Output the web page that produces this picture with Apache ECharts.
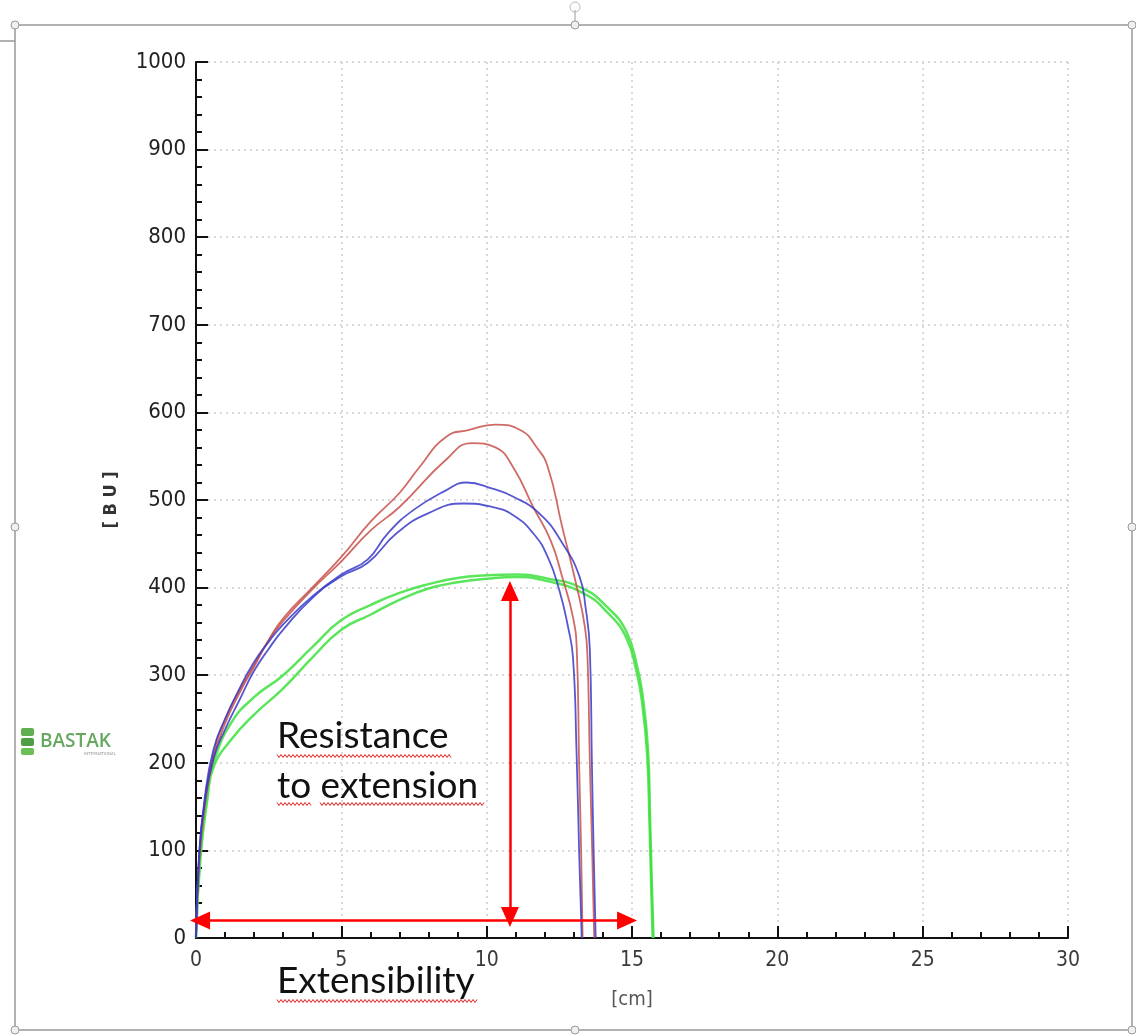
<!DOCTYPE html>
<html>
<head>
<meta charset="utf-8">
<script src="https://cdn.jsdelivr.net/npm/echarts@6/dist/echarts.min.js"></script>
<style>
  html, body { margin: 0; padding: 0; background: #fff; }
  #chart { width: 1136px; height: 1035px; }
</style>
</head>
<body>
<div id="chart"></div>
<script>
// extensograph curves, [cm, BU]
const red1 = [[0,0],[0.1,80],[0.3,150],[0.6,205],[1,245],[1.5,280],[2,310],[2.5,340],[3,365],[4,400],[5,435],[6,475],[7,508],[7.7,538],[8.6,572],[9.4,580],[10.3,586],[11.2,579],[11.7,561],[12.1,538],[12.6,469],[13.1,401],[13.38,355],[13.47,320],[13.55,200],[13.63,100],[13.7,0]];
const red2 = [[0,0],[0.1,85],[0.3,155],[0.6,210],[1,250],[1.5,283],[2,312],[2.5,340],[3,362],[4,398],[5,430],[6,465],[7,492],[8.6,546],[9.5,565],[10.3,560],[10.9,538],[11.6,492],[12.2,454],[12.6,412],[12.97,366],[13.1,329],[13.18,200],[13.25,100],[13.3,0]];
const blue1 = [[0,0],[0.1,90],[0.3,160],[0.6,215],[1,250],[1.5,285],[2,315],[2.5,338],[3,358],[4,390],[5,415],[5.9,432],[6.6,462],[7.5,489],[8.6,511],[9.3,520],[10.2,513],[10.9,504],[11.8,485],[12.6,451],[13.2,412],[13.4,378],[13.55,329],[13.62,200],[13.68,100],[13.75,0]];
const blue2 = [[0,0],[0.1,90],[0.3,155],[0.6,205],[1,238],[1.5,272],[2,305],[2.5,330],[3,352],[4,388],[5,413],[5.9,428],[6.9,462],[8,485],[9.2,496],[10.2,492],[10.9,483],[11.6,462],[12.1,435],[12.5,397],[12.8,355],[12.97,320],[13.09,215],[13.18,100],[13.27,0]];
const green1 = [[0,0],[0.15,100],[0.4,170],[0.6,200],[1.2,245],[2,275],[3,300],[4,332],[5,363],[6,380],[7,394],[8,404],[9,411],[10,414],[11,415],[12,411],[13.3,399],[14.2,376],[14.8,350],[15.17,311],[15.38,273],[15.55,215],[15.62,138],[15.68,63],[15.74,0]];
const green2 = [[0,0],[0.15,90],[0.4,160],[0.6,195],[1.2,226],[2,255],[3,285],[4,320],[5,352],[6,369],[7,386],[8,399],[9,406],[10,410],[11,412],[12,408],[13.3,394],[14.2,370],[14.8,343],[15.15,305],[15.35,268],[15.52,210],[15.6,135],[15.66,60],[15.71,0]];

const xTicks = [0, 30, 5];
const yTicks = [0, 1000, 100];

// annotation arrows [cm, BU]
const extArrow = [[0.14, 20], [14.83, 20]];
const resArrow = [[10.8, 24], [10.8, 396]];

const chart = echarts.init(document.getElementById('chart'));

const labelFont = 'DejaVu Sans Condensed';

function curve(data, color, width) {
  return {
    type: 'line',
    data: data,
    showSymbol: false,
    smooth: 0.5,
    lineStyle: { color: color, width: width, opacity: 0.85 },
    silent: true
  };
}

// wavy spell-check underline
function squiggle(x0, x1, y) {
  const pts = [];
  for (let x = x0, i = 0; x <= x1; x += 2, i++) pts.push([x, y + (i % 2 ? 1.5 : -1.5)]);
  return { type: 'polyline', shape: { points: pts }, style: { stroke: '#e02020', lineWidth: 1, fill: null }, z: 10 };
}

function handle(x, y) {
  return { type: 'circle', shape: { cx: x, cy: y, r: 4 }, style: { fill: '#f0f0f0', stroke: '#999', lineWidth: 1 }, z: 20 };
}

const series = [
  curve(green1, '#3ee03e', 2.5),
  curve(green2, '#3ee03e', 2.5),
  curve(red1, '#c8504a', 1.8),
  curve(red2, '#c8504a', 1.8),
  curve(blue1, '#3a3ac8', 1.8),
  curve(blue2, '#3a3ac8', 1.8)
];

series.push({
  type: 'line',
  data: [],
  markLine: {
    silent: true,
    symbol: ['triangle', 'triangle'],
    symbolSize: [18, 20],
    label: { show: false },
    lineStyle: { color: '#ff0000', width: 2.5, type: 'solid' },
    data: [
      [{ coord: extArrow[0] }, { coord: extArrow[1] }],
      [{ coord: resArrow[0] }, { coord: resArrow[1] }]
    ]
  }
});

chart.setOption({
  animation: false,
  backgroundColor: '#ffffff',
  grid: { left: 196, right: 68, top: 62, bottom: 97 },
  xAxis: {
    type: 'value',
    min: xTicks[0], max: xTicks[1], interval: xTicks[2],
    name: '[cm]',
    nameLocation: 'middle',
    nameGap: 52,
    nameTextStyle: { fontFamily: labelFont, fontSize: 20, color: '#555' },
    axisLine: { lineStyle: { color: '#111', width: 2 } },
    axisTick: { inside: true, length: 12, lineStyle: { color: '#111', width: 2 } },
    minorTick: { show: true, splitNumber: 5, length: 6, lineStyle: { color: '#111', width: 2 } },
    axisLabel: { fontFamily: labelFont, fontSize: 21, color: '#3a3a3a', margin: 12 },
    splitLine: { show: true, lineStyle: { color: '#cccccc', type: [2, 4], width: 1.5 } }
  },
  yAxis: {
    type: 'value',
    min: yTicks[0], max: yTicks[1], interval: yTicks[2],
    name: '[ B U ]',
    nameLocation: 'middle',
    nameGap: 76,
    nameRotate: 90,
    nameTextStyle: { fontFamily: labelFont, fontSize: 18, color: '#333', fontWeight: 'bold' },
    axisLine: { show: true, lineStyle: { color: '#111', width: 2 } },
    axisTick: { show: true, inside: true, length: 12, lineStyle: { color: '#111', width: 2 } },
    minorTick: { show: true, splitNumber: 5, length: 6, lineStyle: { color: '#111', width: 2 } },
    axisLabel: { fontFamily: labelFont, fontSize: 22, color: '#222', margin: 10, formatter: v => String(v) },
    splitLine: { show: true, lineStyle: { color: '#cccccc', type: [2, 4], width: 1.5 } }
  },
  series: series,
  graphic: [
    // picture frame
    { type: 'rect', shape: { x: 15, y: 25, width: 1117, height: 1005 }, style: { fill: null, stroke: '#999', lineWidth: 1.5 }, z: 19 },
    { type: 'line', shape: { x1: 0, y1: 41, x2: 15, y2: 41 }, style: { stroke: '#999', lineWidth: 1.5 }, z: 19 },
    { type: 'line', shape: { x1: 575, y1: 10, x2: 575, y2: 25 }, style: { stroke: '#999', lineWidth: 1 }, z: 19 },
    { type: 'circle', shape: { cx: 575, cy: 7, r: 5 }, style: { fill: null, stroke: '#bbb', lineWidth: 1 }, z: 19 },
    handle(15, 25), handle(575, 25), handle(1132, 25),
    handle(15, 527), handle(1132, 527),
    handle(15, 1030), handle(575, 1030), handle(1132, 1030),
    // logo
    { type: 'rect', shape: { x: 21, y: 728, width: 13, height: 8, r: 2 }, style: { fill: '#5fae4f' }, z: 10 },
    { type: 'rect', shape: { x: 21, y: 738, width: 13, height: 8, r: 2 }, style: { fill: '#4f9e45' }, z: 10 },
    { type: 'rect', shape: { x: 21, y: 748, width: 13, height: 7, r: 2 }, style: { fill: '#6cbf56' }, z: 10 },
    { type: 'text', left: 40, top: 732, style: { text: 'BASTAK', fontFamily: 'Open Sans', fontWeight: 600, fontSize: 19, fill: '#66a860' }, z: 10 },
    { type: 'text', left: 84, top: 752, style: { text: 'INTERNATIONAL', fontFamily: 'DejaVu Sans', fontSize: 4, fill: '#999' }, z: 10 },
    // annotations
    { type: 'text', left: 277, top: 718, style: { text: 'Resistance', fontFamily: 'Lato', fontSize: 37, fill: '#111' }, z: 10 },
    { type: 'text', left: 277, top: 768, style: { text: 'to extension', fontFamily: 'Lato', fontSize: 37, fill: '#111' }, z: 10 },
    { type: 'text', left: 277, top: 963, style: { text: 'Extensibility', fontFamily: 'Lato', fontSize: 37, fill: '#111' }, z: 10 },
    squiggle(277, 451, 756),
    squiggle(277, 312, 804),
    squiggle(320, 484, 804),
    squiggle(277, 477, 1001)
  ]
});
</script>
</body>
</html>
